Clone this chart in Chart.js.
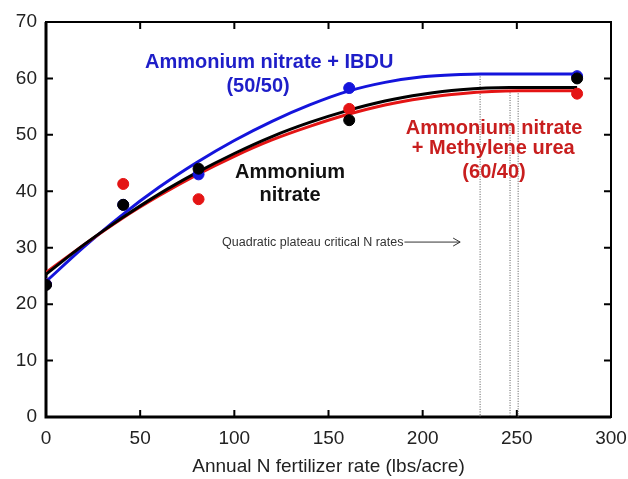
<!DOCTYPE html>
<html>
<head>
<meta charset="utf-8">
<script src="https://cdn.jsdelivr.net/npm/chart.js@4.4.1/dist/chart.umd.min.js"></script>
<style>
  html, body { margin: 0; padding: 0; background: #fff; }
  #wrap { width: 628px; height: 479px; }
</style>
</head>
<body>
<div id="wrap"><canvas id="chart"></canvas></div>
<script>
// Données
const rates = [0, 41, 81, 161, 282];
const blackPts = [23.4, 37.6, 44.0, 52.6, 60.0];
const redPts = [23.5, 41.3, 38.6, 54.6, 57.3];
const bluePts = [23.5, 37.6, 43.0, 58.3, 60.4];

// Courbes quadratique-plateau (lues point par point)
const blueCurveX = [0, 20, 40, 60, 80, 100, 120, 140, 160, 180, 200, 220, 231, 282];
const blueCurveY = [24.0, 30.1, 35.7, 40.7, 45.1, 49.0, 52.4, 55.3, 57.7, 59.3, 60.3, 60.7, 60.8, 60.8];
const blackCurveX = [0, 20, 40, 60, 80, 100, 120, 140, 160, 180, 200, 220, 246, 282];
const blackCurveY = [25.3, 30.5, 35.2, 39.5, 43.3, 46.7, 49.7, 52.2, 54.3, 56.0, 57.2, 58.0, 58.4, 58.4];
const redCurveX = [0, 20, 40, 60, 80, 100, 120, 140, 160, 180, 200, 220, 251, 282];
const redCurveY = [25.6, 30.5, 35.1, 39.2, 42.9, 46.2, 49.1, 51.5, 53.6, 55.3, 56.5, 57.3, 57.8, 57.8];

// Doses critiques
const criticalRates = [230.5, 246.4, 250.7];
const criticalTops = [60.8, 58.4, 57.8];

const xTicks = [0, 50, 100, 150, 200, 250, 300];
const yTicks = [0, 10, 20, 30, 40, 50, 60, 70];

const BLUE = '#1414dc';
const RED = '#e41414';
const BLACK = '#000000';

function pts(xs, ys) {
    return xs.map((x, i) => ({ x: x, y: ys[i] }));
}

function curve(label, xs, ys, color, order) {
    return {
        label: label, data: pts(xs, ys), showLine: true, borderColor: color,
        borderWidth: 3, pointRadius: 0, cubicInterpolationMode: 'monotone', order: order
    };
}

function dots(label, ys, color, order) {
    return {
        label: label, data: pts(rates, ys), showLine: false, backgroundColor: color,
        borderColor: color, pointRadius: 5.5, order: order
    };
}

const datasets = [
    dots('Ammonium nitrate', blackPts, BLACK, 1),
    dots('AN + IBDU', bluePts, BLUE, 2),
    dots('AN + Methylene urea', redPts, RED, 3),
    curve('Ammonium nitrate fit', blackCurveX, blackCurveY, BLACK, 4),
    curve('AN + Methylene urea fit', redCurveX, redCurveY, RED, 5),
    curve('AN + IBDU fit', blueCurveX, blueCurveY, BLUE, 6)
];

criticalRates.forEach((r, i) => {
    datasets.push({
        label: 'critical ' + i, data: [{ x: r, y: criticalTops[i] }, { x: r, y: 0 }],
        showLine: true, borderColor: '#555', borderWidth: 1, borderDash: [1, 1.5],
        pointRadius: 0, order: 10
    });
});

// Textes placés en coordonnées de données
const bold = 'bold 20px "Liberation Sans", Arial';
const notes = [
    { text: 'Ammonium nitrate + IBDU', x: 118.5, y: 62.8, color: '#1e1ec8', font: bold },
    { text: '(50/50)', x: 112.6, y: 58.5, color: '#1e1ec8', font: bold },
    { text: 'Ammonium nitrate', x: 237.9, y: 51.2, color: '#c81e1e', font: bold },
    { text: '+ Methylene urea', x: 237.5, y: 47.6, color: '#c81e1e', font: bold },
    { text: '(60/40)', x: 237.9, y: 43.4, color: '#c81e1e', font: bold },
    { text: 'Ammonium', x: 129.6, y: 43.4, color: '#111', font: bold },
    { text: 'nitrate', x: 129.6, y: 39.2, color: '#111', font: bold }
];

const framePlugin = {
    id: 'frame',
    beforeDatasetsDraw(chart) {
        const { ctx, chartArea: a, scales } = chart;
        ctx.save();
        ctx.strokeStyle = '#000';
        ctx.lineWidth = 2;
        ctx.strokeRect(a.left, a.top, a.right - a.left, a.bottom - a.top);
        ctx.lineWidth = 3;
        ctx.beginPath();
        ctx.moveTo(a.left, a.top);
        ctx.lineTo(a.left, a.bottom);
        ctx.lineTo(a.right, a.bottom);
        ctx.stroke();
        // petites graduations vers l'intérieur
        ctx.lineWidth = 2;
        ctx.beginPath();
        xTicks.forEach(v => {
            const px = scales.x.getPixelForValue(v);
            ctx.moveTo(px, a.bottom); ctx.lineTo(px, a.bottom - 7);
            ctx.moveTo(px, a.top); ctx.lineTo(px, a.top + 7);
        });
        yTicks.forEach(v => {
            const py = scales.y.getPixelForValue(v);
            ctx.moveTo(a.left, py); ctx.lineTo(a.left + 7, py);
            ctx.moveTo(a.right, py); ctx.lineTo(a.right - 7, py);
        });
        ctx.stroke();
        ctx.restore();
    },
    afterDatasetsDraw(chart) {
        const { ctx, scales } = chart;
        ctx.save();
        ctx.textAlign = 'center';
        ctx.textBaseline = 'middle';
        notes.forEach(n => {
            ctx.font = n.font;
            ctx.fillStyle = n.color;
            ctx.fillText(n.text, scales.x.getPixelForValue(n.x), scales.y.getPixelForValue(n.y));
        });
        // texte des doses critiques avec flèche
        const sx = scales.x.getPixelForValue(93.5);
        const sy = scales.y.getPixelForValue(31.0);
        ctx.font = '12.5px "Liberation Sans", Arial';
        ctx.fillStyle = '#333';
        ctx.textAlign = 'left';
        const label = 'Quadratic plateau critical N rates';
        ctx.fillText(label, sx, sy);
        const ax0 = sx + ctx.measureText(label).width + 1;
        const ax1 = scales.x.getPixelForValue(219.9);
        ctx.strokeStyle = '#333';
        ctx.lineWidth = 1;
        ctx.beginPath();
        ctx.moveTo(ax0, sy); ctx.lineTo(ax1, sy);
        ctx.moveTo(ax1 - 7, sy - 4); ctx.lineTo(ax1, sy); ctx.lineTo(ax1 - 7, sy + 4);
        ctx.stroke();
        ctx.restore();
    }
};

new Chart(document.getElementById('chart'), {
    type: 'scatter',
    data: { datasets: datasets },
    options: {
        responsive: true,
        maintainAspectRatio: false,
        animation: false,
        layout: { padding: { top: 22, right: 17, left: 0, bottom: 0 } },
        plugins: { legend: { display: false }, tooltip: { enabled: false } },
        scales: {
            x: {
                type: 'linear', min: 0, max: 300,
                afterBuildTicks: s => { s.ticks = xTicks.map(v => ({ value: v })); },
                afterFit: s => { s.height = 62; s.paddingRight = 0; s.paddingLeft = 0; },
                grid: { display: false, drawTicks: false },
                border: { display: false },
                ticks: { color: '#222', padding: 10, font: { family: '"Liberation Sans", Arial', size: 19 } },
                title: {
                    display: true, text: 'Annual N fertilizer rate (lbs/acre)', color: '#222',
                    font: { family: '"Liberation Sans", Arial', size: 19 }, padding: { top: 4, bottom: 1 }
                }
            },
            y: {
                type: 'linear', min: 0, max: 70,
                afterBuildTicks: s => { s.ticks = yTicks.map(v => ({ value: v })); },
                afterFit: s => { s.width = 46; s.paddingTop = 0; s.paddingBottom = 0; },
                grid: { display: false, drawTicks: false },
                border: { display: false },
                ticks: { color: '#222', padding: 9, font: { family: '"Liberation Sans", Arial', size: 19 } }
            }
        }
    },
    plugins: [framePlugin]
});
</script>
</body>
</html>
